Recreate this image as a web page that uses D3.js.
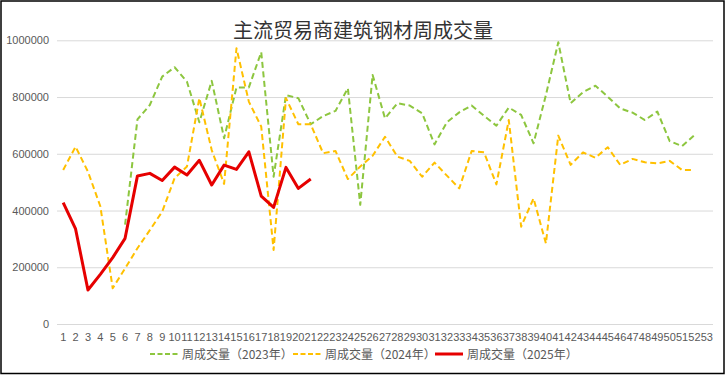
<!DOCTYPE html>
<meta charset="utf-8">
<script src="https://cdn.jsdelivr.net/npm/d3@7"></script>
<style>
body { margin: 0; background: #fff; }
text { font-family: "Liberation Sans", "Noto Sans CJK SC", sans-serif; }
.title { font-family: "Noto Sans CJK SC", sans-serif; font-size: 20px; fill: #333; }
.tick text { fill: #595959; font-size: 11px; }
.leg { font-family: "Noto Sans CJK SC", sans-serif; font-size: 12px; fill: #595959; }
</style>
<body>
<script>

var weeks = d3.range(1, 54).map(String);
var yTicks = [0, 200000, 400000, 600000, 800000, 1000000];

// 2023 (starts at week 6)
var v2023 = [null, null, null, null, null, 350000, 721000, 772000, 872000, 905000,
  854000, 711000, 857000, 655000, 834000, 834000, 958000, 519000, 807000, 796000,
  704000, 733000, 751000, 831000, 420000, 878000, 725000, 778000, 770000, 743000,
  633000, 711000, 746000, 770000, 734000, 699000, 763000, 737000, 637000, 807000,
  993000, 778000, 817000, 840000, 801000, 760000, 745000, 719000, 749000, 645000,
  627000, 666000];

var v2024 = [543000, 625000, 537000, 415000, 126000, 196000, 267000, 331000, 396000, 514000,
  555000, 796000, 613000, 494000, 972000, 784000, 696000, 261000, 796000, 704000,
  704000, 602000, 610000, 511000, 555000, 593000, 660000, 590000, 575000, 519000,
  569000, 523000, 478000, 610000, 605000, 492000, 719000, 343000, 443000, 284000,
  664000, 561000, 605000, 586000, 623000, 561000, 582000, 570000, 566000, 575000,
  543000, 543000];

var v2025 = [428000, 335000, 120000, 175000, 234000, 302000, 522000, 531000, 506000, 553000,
  525000, 577000, 490000, 560000, 545000, 607000, 451000, 411000, 552000, 478000,
  511000];

var seriesNames = ["周成交量（2023年）", "周成交量（2024年）", "周成交量（2025年）"];

var width = 726, height = 375;
var pLeft = 57, pRight = 713, pTop = 40.3, pBottom = 324;

var svg = d3.select("body").append("svg")
    .attr("width", width)
    .attr("height", height);

// chart border
svg.append("rect")
    .attr("x", 1).attr("y", 1)
    .attr("width", 723).attr("height", 372.5)
    .attr("fill", "#fff")
    .attr("stroke", "#000")
    .attr("stroke-width", 1.5);

svg.append("text")
    .attr("class", "title")
    .attr("x", 363)
    .attr("y", 38)
    .attr("text-anchor", "middle")
    .text("主流贸易商建筑钢材周成交量");

var x = d3.scaleBand().domain(weeks).range([pLeft, pRight]);
var y = d3.scaleLinear().domain([0, 1000000]).range([pBottom, pTop]);

// gridlines + y labels
var ya = svg.append("g")
    .attr("transform", "translate(" + pLeft + ",0)")
    .call(d3.axisLeft(y).tickValues(yTicks).tickSize(-(pRight - pLeft)).tickPadding(8).tickFormat(d3.format("d")));
ya.select(".domain").remove();
ya.selectAll(".tick line").attr("stroke", "#d9d9d9").attr("stroke-width", 1);

var xa = svg.append("g")
    .attr("transform", "translate(0," + pBottom + ")")
    .call(d3.axisBottom(x).tickSize(0).tickPadding(9));
xa.select(".domain").remove();

var cx = function(i) { return x(weeks[i]) + x.bandwidth() / 2; };

var line = d3.line()
    .defined(function(d) { return d != null; })
    .x(function(d, i) { return cx(i); })
    .y(function(d) { return y(d); });

var styles = [
  { data: v2023, color: "#8DC63F", w: 2, dash: "6,3.5" },
  { data: v2024, color: "#FFC000", w: 2, dash: "6,3.5" },
  { data: v2025, color: "#E60000", w: 3, dash: null }
];

styles.forEach(function(s) {
  svg.append("path")
      .datum(s.data)
      .attr("fill", "none")
      .attr("stroke", s.color)
      .attr("stroke-width", s.w)
      .attr("stroke-linejoin", "round")
      .attr("stroke-dasharray", s.dash)
      .attr("d", line);
});

// legend
var legX = [150, 293, 435];
var leg = svg.append("g");
styles.forEach(function(s, i) {
  leg.append("line")
      .attr("x1", legX[i]).attr("x2", legX[i] + 28)
      .attr("y1", 354).attr("y2", 354)
      .attr("stroke", s.color)
      .attr("stroke-width", s.w)
      .attr("stroke-dasharray", s.dash ? "5,2.5" : null);
  leg.append("text")
      .attr("class", "leg")
      .attr("x", legX[i] + 32)
      .attr("y", 358.5)
      .text(seriesNames[i]);
});

</script>
</body>
